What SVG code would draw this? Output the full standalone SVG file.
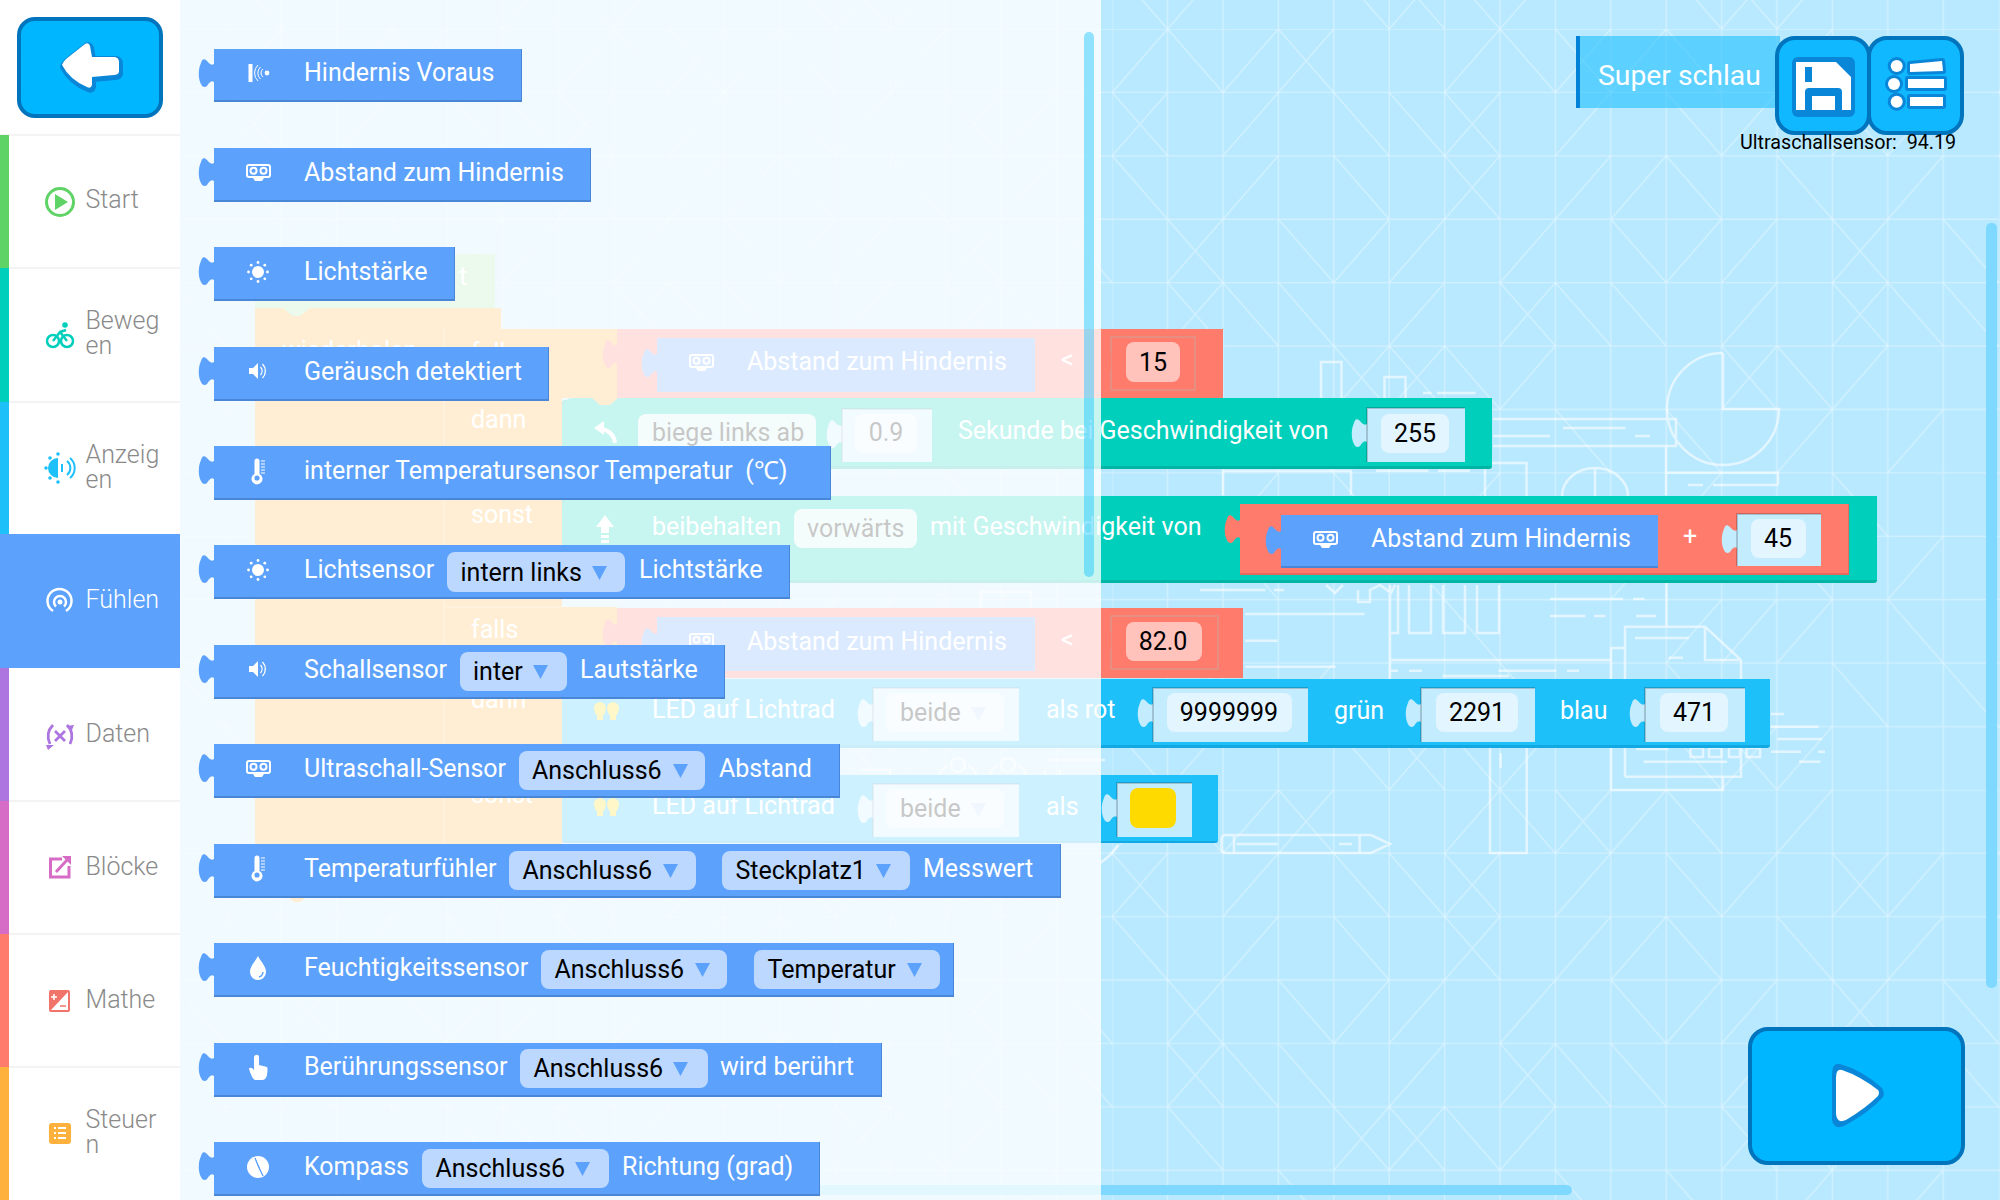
<svg xmlns="http://www.w3.org/2000/svg" width="2000" height="1200" viewBox="0 0 2000 1200">
<style>
text{font-family:Roboto,"Liberation Sans",sans-serif;font-size:25px}
.w{fill:#fff}.k{fill:#000}.m{text-anchor:middle}
.cat{fill:#8a8a8a;font-weight:300;font-size:25px}
.gl{fill:none;stroke:#fff;stroke-opacity:.34;stroke-width:1.4;vector-effect:non-scaling-stroke}
.il{fill:none;stroke:#fff;stroke-opacity:.6;stroke-width:2.5}
.blue{fill:#5ca1fb}.blued{fill:#4a86d6}.dd{fill:#bcd8ff}.tri{fill:#5ca1fb}.trig{fill:#bcd8ff}
.red{fill:#ff7b6c}.redd{fill:#e56a5c}.teal{fill:#00cfbb}.teald{fill:#00b5a3}.cyan{fill:#1ec0f9}.cyand{fill:#12a8e2}.or{fill:#ffb13d}.gr{fill:#a5e6a8}
.sock{fill:#c4ecff}.sockr{fill:#ff7b6c;stroke:#e0958a;stroke-width:1.5}
.st{fill:none;stroke:#000;stroke-opacity:.18;stroke-width:2}
.fld{fill:#e3f5ff}.fldr{fill:#ffc3bc}.fldt{fill:#cdf3ef}
.btn{fill:#00b7ff;stroke:#0074bd;stroke-width:4}
.btnt{fill:#00b3ff;fill-opacity:.92;stroke:#0074bd;stroke-width:4}
.ic{fill:#fff}.ics{fill:none;stroke:#fff;stroke-width:2}
.shade{fill:#0a86d8;stroke:#0a86d8;stroke-linejoin:round}
</style>
<defs>
<pattern id="grid" x="1112.2" y="29" width="886.4" height="760.8" patternUnits="userSpaceOnUse">
<path class="gl" d="M0 0H886.4M0 63.4H886.4M0 126.8H886.4M0 190.2H886.4M0 253.6H886.4M0 317H886.4M0 380.4H886.4M0 443.8H886.4M0 507.2H886.4M0 570.6H886.4M0 634H886.4M0 697.4H886.4M0 0V760.8M55.4 0V760.8M110.8 0V760.8M166.2 0V760.8M221.6 0V760.8M277 0V760.8M332.4 0V760.8M387.8 0V760.8M443.2 0V760.8M498.6 0V760.8M554 0V760.8M609.4 0V760.8M664.8 0V760.8M720.2 0V760.8M775.6 0V760.8M831 0V760.8"/>
<path class="gl" transform="scale(55.4 63.4)" d="
M1 0L0 1M1 0L2 1M3 0L2 1M3 0L4 1M4 0L3 1M7 0L6 1M7 0L8 1M8 0L9 1M9 0L8 1M10 0L9 1M10 0L11 1M13 0L12 1
M0 1L1 2M1 1L0 2M3 1L2 2M4 1L5 2M5 1L6 2M6 1L7 2M7 1L6 2M9 1L8 2M10 1L11 2M12 1L11 2M13 1L14 2M14 1L13 2M15 1L14 2
M0 2L1 3M3 2L2 3M4 2L5 3M6 2L7 3M7 2L6 3M9 2L8 3M10 2L9 3M10 2L11 3M12 2L13 3M15 2L14 3
M1 3L2 4M2 3L1 4M3 3L4 4M5 3L4 4M6 3L5 4M8 3L7 4M9 3L10 4M11 3L10 4M12 3L11 4M13 3L14 4M14 3L13 4M15 3L16 4
M1 4L2 5M2 4L1 5M2 4L3 5M3 4L4 5M6 4L5 5M7 4L8 5M8 4L7 5M8 4L9 5M9 4L10 5M12 4L11 5M13 4L14 5M14 4L13 5M14 4L15 5M15 4L16 5
M1 5L2 6M4 5L5 6M5 5L4 6M5 5L6 6M6 5L5 6M6 5L7 6M8 5L7 6M11 5L12 6M12 5L11 6M12 5L13 6M14 5L13 6
M3 6L4 7M8 6L9 7M10 6L11 7M13 6L12 7M15 6L14 7
M3 7L2 8M4 7L5 8M7 7L6 8M11 7L10 8M13 7L14 8
M2 8L3 9M5 8L6 9M10 8L9 9M12 8L13 9M15 8L14 9
M12 9L11 10M11 9L10 10M13 9L12 10M14 9L15 10M6 9L7 10
M7 10L8 11M10 10L11 11M13 10L14 11M4 10L3 11M15 10L16 11M2 10L1 11
M0 11L1 12M2 11L1 12M4 11L5 12M6 11L5 12M5 11L6 12M6 11L7 12M8 11L7 12M11 11L12 12M12 11L11 12M13 11L12 12M10 11L11 12"/>
</pattern>
<path id="tab" d="M15 15C12 17 10 14 8 12C5 9 3 10 2 14C-1 20-1 30 2 35C3 38 6 39 8 37C10 34 12 31 15 33Z"/>
<path id="tri" d="M0 0H15L7.500 14Z"/>
<path id="bulb" d="M0 0A6 6 0 0 1 6 6Q6 10 3 14V18H-3V14Q-6 10-6 6A6 6 0 0 1 0 0Z"/>
<g id="i-sonar"><rect x="-9.500" y="-9" width="4" height="18" class="ic"/><circle cx="9" cy="0" r="2.400" class="ic"/><path d="M5-4A5 5 0 0 0 5 4M2.500-6A8 8 0 0 0 2.500 6M0-8A11 11 0 0 0 0 8" fill="none" stroke="#fff" stroke-width="1"/></g>
<g id="i-dist"><rect x="-11" y="-7" width="23" height="12" rx="2" class="ics"/><circle cx="-4.500" cy="-1.200" r="3" class="ics" stroke-width="1.300"/><circle cx="5.500" cy="-1.200" r="3" class="ics" stroke-width="1.300"/><path d="M-5 6H6L4 9H-3Z" class="ic"/></g>
<g id="i-sun"><circle r="6" class="ic"/><g fill="#fff"><circle cx="0" cy="-9.500" r="1.400"/><circle cx="0" cy="9.500" r="1.400"/><circle cx="-9.500" cy="0" r="1.400"/><circle cx="9.500" cy="0" r="1.400"/><circle cx="-6.800" cy="-6.800" r="1.400"/><circle cx="6.800" cy="-6.800" r="1.400"/><circle cx="-6.800" cy="6.800" r="1.400"/><circle cx="6.800" cy="6.800" r="1.400"/></g></g>
<g id="i-snd"><path d="M-9-3H-5L0-8V8L-5 3H-9Z" class="ic"/><path d="M2.500-4A6 6 0 0 1 2.500 4M4.500-7A10 10 0 0 1 4.500 7" fill="none" stroke="#fff" stroke-width="1.300"/></g>
<g id="i-th"><path d="M-3.500-10A2.500 2.500 0 0 1 1.500-10V3A5.500 5.500 0 1 1-3.500 3Z" class="ic"/><circle cx="-1" cy="7" r="2.600" fill="#5ca1fb"/><path d="M3-10H7M3-7H7M3-4H7M3-1H7M3 2H7" stroke="#fff" stroke-width="1"/></g>
<g id="i-drop"><path d="M0-12C3-6 8-2 8 4A8 8 0 0 1-8 4C-8-2-3-6 0-12Z" class="ic"/><path d="M5 4A5 6 0 0 1 1 9" fill="none" stroke="#5ca1fb" stroke-width="1.500"/></g>
<g id="i-hand"><path d="M-2-13Q1-14 1-10V-3L9-1Q10 0 9 7Q8 12 4 12H-3Q-6 11-9 1Q-9-1-6 0L-4 2V-10Q-4-13-2-13Z" class="ic"/></g>
<g id="i-cmp"><circle r="11" class="ic"/><path d="M-3-9L5 9L0-1Z" fill="#5ca1fb" stroke="#5ca1fb"/></g>
</defs>
<g id="background">
<rect width="2000" height="1200" fill="#b9e9ff"/>
<rect width="2000" height="1200" fill="url(#grid)"/>
<g id="illustration">
<path class="il" d="M1321 400V362H1341.500V400M1384.500 400V377H1405.500V400M1423 393H1431.500M1437 393H1475.500M1493 419H1676V446H1493M1493 436H1550M1563 428H1625.500M1635 436H1650M1666 446V495M1666 472.700H1778V485M1688 485H1703M1713 485H1778M1723 353A56 56 0 1 0 1779 409H1723V353M1562 496A33 28 0 0 1 1628 496M1595 468V496M1485 496V463H1526.500V496M1376 470.700H1428.500M1438 470.700H1470M1223 495V471H1351V495"/>
<path class="il" d="M1200 590H1265.500M1274 590H1284M1326 585L1335 593L1343 585M1358 590V602H1370V590L1380 585L1391 593L1395 585M1390 585V680M1398 585V633H1390M1409 585V633H1431V585M1443 585V633H1465V585M1477 585V633H1499V585M1390 660H1611M1390 670.700H1398M1409 670.700H1422M1498.500 670.700H1556.500M1567 670.700H1579M1442.500 676H1509M1550 599H1623M1633 599H1644.500M1550 616H1585.500M1594 616H1605.500M1636 616H1656M1666.500 583V627M1625 776.700V626.700H1705L1741 660V776.700H1625M1705 626.700V660H1741M1635 638H1689M1668.500 657.700H1683M1611 790V648H1625M1611 790H1723V776.700M1245 614H1364.600M1245 640.700H1277.500M1245 666.700H1335.600M1490 748V853H1526.700V748M1500.600 753V768M1226 835H1371L1390 844L1371 853H1226Q1221.500 853 1221.500 848V840Q1221.500 835 1226 835ZM1234 835V853M1359.600 835V853M1236.500 844H1277.500M1339 844H1352M1690.500 748H1703V757H1690.500ZM1709 748H1721.500V757H1709ZM1729 748H1740V757H1729ZM1746.500 748H1760V757H1746.500ZM1771 714H1784M1771 726.700H1818.600M1777.500 739H1822M1771 751.700H1801M1818 751.700H1825M1799 761.700H1820.600M1643.600 761.700H1727M1636 749H1668.500"/>
<path class="il" d="M1100 863A58 58 0 0 0 1118 845M948 765A20 20 0 1 0 968 765M998 765A20 20 0 1 0 1018 765M981 607V592H1031V607M860 770H890V800M1050 760H1105M1045 770V790M1060 770V790"/>
<circle class="il" cx="958" cy="765" r="7"/><circle class="il" cx="1008" cy="765" r="7"/>
</g>
<rect x="800" y="1185" width="772" height="10" rx="5" fill="#7fd8ff"/>
<rect x="1986" y="223" width="11" height="765" rx="5" fill="#7fd8ff"/>
</g>
<g id="workspace">
<g id="ws-start"><rect x="255" y="254" width="240" height="54" class="gr"/><text x="459" y="285" class="w">t</text></g>
<g id="ws-repeat">
<path class="or" d="M255 308H501V329H617V398H562V468H562V495H562V607H617V680H562V845H560V895H255Z"/>
<path d="M444 329V895" stroke="#ffc56f" stroke-width="1.500"/>
<path d="M444 607H562" stroke="#ffc56f" stroke-width="1.500"/>
<path class="gr" d="M283 308H310L300 316H292Z"/>
<path class="or" d="M285 895H310L300 902H294Z"/>
<text x="282" y="359" class="w">wiederholen</text>
<text x="471" y="361" class="w">falls</text>
<text x="471" y="428" class="w">dann</text>
<text x="471" y="523" class="w">sonst</text>
<text x="471" y="638" class="w">falls</text>
<text x="471" y="708" class="w">dann</text>
<text x="471" y="803" class="w">sonst</text>
</g>
<g id="ws-cond1">
<rect x="617" y="329" width="606" height="69" class="red"/><use href="#tab" x="603" y="330" fill="#ff7b6c"/>
<rect x="657" y="338" width="378" height="54" class="blue"/><use href="#tab" x="642" y="339" fill="#5ca1fb"/>
<use href="#i-dist" x="701" y="362"/>
<text x="747" y="370" class="w">Abstand zum Hindernis</text><text x="1061" y="368" class="w">&lt;</text>
<rect x="1111" y="337" width="84" height="53" class="sockr"/><use href="#tab" x="1096" y="338" fill="#ff7b6c"/>
<rect x="1126" y="342" width="54" height="40" rx="8" class="fldr"/><text x="1153" y="371" class="k m">15</text>
</g>
<g id="ws-turn">
<rect x="562" y="400" width="930" height="69" rx="3" class="teald"/><path class="teal" d="M574 398H1492V466H562V410Q562 398 574 398Z"/><path class="or" d="M592 398H618L610 405H600Z"/>
<path d="M615 443Q614 432 602 429" fill="none" stroke="#fff" stroke-width="4"/><path d="M594 428L604 421V435Z" fill="#fff"/>
<rect x="638" y="414" width="178" height="40" rx="8" class="fldt"/><text x="652" y="441" class="k">biege links ab</text>
<rect x="842" y="409" width="90" height="53" class="sock"/><use href="#tab" x="827" y="410" fill="#c4ecff"/><path class="st" d="M842 462V409H932"/>
<rect x="855" y="414" width="62" height="39" rx="8" class="fld"/><text x="886" y="441" class="k m">0.9</text>
<text x="958" y="439" class="w">Sekunde bei Geschwindigkeit von</text>
<rect x="1367" y="408" width="98" height="54" class="sock"/><use href="#tab" x="1352" y="409" fill="#c4ecff"/><path class="st" d="M1367 462V408H1465"/>
<rect x="1381" y="414" width="68" height="39" rx="8" class="fld"/><text x="1415" y="442" class="k m">255</text>
</g>
<g id="ws-keep">
<rect x="562" y="498" width="1315" height="85" rx="3" class="teald"/><path class="teal" d="M574 496H1877V580H562V508Q562 496 574 496Z"/>
<path d="M605 515L614 527H609V533H601V527H596ZM601 535H609V538H601ZM601 540H609V543H601Z" fill="#fff"/>
<text x="652" y="535" class="w">beibehalten</text>
<rect x="794" y="509" width="123" height="39" rx="8" class="fldt"/><text x="807" y="537" class="k">vorwärts</text>
<text x="930" y="535" class="w">mit Geschwindigkeit von</text>
<rect x="1240" y="504" width="609" height="71" class="redd"/><rect x="1240" y="504" width="608" height="69" class="red"/><use href="#tab" x="1225" y="505" fill="#ff7b6c"/>
<rect x="1281" y="515" width="377" height="53" class="blued"/><rect x="1281" y="515" width="377" height="51" class="blue"/><use href="#tab" x="1266" y="516" fill="#5ca1fb"/>
<use href="#i-dist" x="1325" y="539"/>
<text x="1371" y="547" class="w">Abstand zum Hindernis</text><text x="1683" y="545" class="w">+</text>
<rect x="1737" y="514" width="84" height="52" class="sock"/><use href="#tab" x="1722" y="515" fill="#c4ecff"/><path class="st" d="M1737 566V514H1821"/>
<rect x="1751" y="519" width="55" height="39" rx="8" class="fld"/><text x="1778" y="547" class="k m">45</text>
</g>
<g id="ws-cond2">
<rect x="617" y="608" width="626" height="70" class="red"/><use href="#tab" x="603" y="609" fill="#ff7b6c"/>
<rect x="657" y="617" width="378" height="54" class="blue"/><use href="#tab" x="642" y="618" fill="#5ca1fb"/>
<use href="#i-dist" x="701" y="641"/>
<text x="747" y="650" class="w">Abstand zum Hindernis</text><text x="1061" y="648" class="w">&lt;</text>
<rect x="1111" y="616" width="107" height="53" class="sockr"/><use href="#tab" x="1096" y="617" fill="#ff7b6c"/>
<rect x="1126" y="622" width="76" height="39" rx="8" class="fldr"/><text x="1163" y="650" class="k m">82.0</text>
</g>
<g id="ws-led1">
<rect x="562" y="681" width="1208" height="67" rx="3" class="cyand"/><path class="cyan" d="M574 679H1770V745H562V691Q562 679 574 679Z"/>
<g fill="#ffda00"><use href="#bulb" x="600" y="702"/><use href="#bulb" x="613" y="702"/></g>
<text x="652" y="718" class="w">LED auf Lichtrad</text>
<rect x="873" y="688" width="146" height="53" class="sock"/><use href="#tab" x="858" y="689" fill="#c4ecff"/><path class="st" d="M873 741V688H1019"/>
<rect x="886" y="693" width="118" height="39" rx="8" class="fld"/><text x="900" y="721" class="k">beide</text><use href="#tri" x="971" y="707" class="trig"/>
<text x="1046" y="718" class="w">als rot</text>
<rect x="1153" y="688" width="155" height="54" class="sock"/><use href="#tab" x="1138" y="689" fill="#c4ecff"/><path class="st" d="M1153 742V688H1308"/>
<rect x="1167" y="693" width="125" height="39" rx="8" class="fld"/><text x="1229" y="721" class="k m">9999999</text>
<text x="1334" y="719" class="w">grün</text>
<rect x="1421" y="688" width="114" height="54" class="sock"/><use href="#tab" x="1406" y="689" fill="#c4ecff"/><path class="st" d="M1421 742V688H1535"/>
<rect x="1436" y="693" width="82" height="39" rx="8" class="fld"/><text x="1477" y="721" class="k m">2291</text>
<text x="1560" y="719" class="w">blau</text>
<rect x="1645" y="688" width="100" height="54" class="sock"/><use href="#tab" x="1630" y="689" fill="#c4ecff"/><path class="st" d="M1645 742V688H1745"/>
<rect x="1660" y="693" width="68" height="39" rx="8" class="fld"/><text x="1694" y="721" class="k m">471</text>
</g>
<g id="ws-led2">
<rect x="562" y="777" width="656" height="66" rx="3" class="cyand"/><path class="cyan" d="M574 775H1218V841H562V787Q562 775 574 775Z"/>
<g fill="#ffda00"><use href="#bulb" x="600" y="798"/><use href="#bulb" x="613" y="798"/></g>
<text x="652" y="814" class="w">LED auf Lichtrad</text>
<rect x="873" y="784" width="146" height="53" class="sock"/><use href="#tab" x="858" y="785" fill="#c4ecff"/><path class="st" d="M873 837V784H1019"/>
<rect x="886" y="789" width="118" height="39" rx="8" class="fld"/><text x="900" y="817" class="k">beide</text><use href="#tri" x="971" y="803" class="trig"/>
<text x="1046" y="815" class="w">als</text>
<rect x="1117" y="783" width="75" height="54" class="sock"/><use href="#tab" x="1102" y="784" fill="#c4ecff"/><path class="st" d="M1117 837V783H1192"/>
<rect x="1130" y="788" width="46" height="40" rx="8" fill="#ffda00"/>
</g>
</g>
<rect id="flyout-panel" x="180" y="0" width="921" height="1200" fill="#fff" fill-opacity=".78"/>
<rect id="flyout-scrollbar" x="1084" y="32" width="10" height="545" rx="5" fill="#00bfff" fill-opacity=".4"/>
<g id="sidebar">
<rect width="180" height="1200" fill="#fff"/>
<path d="M0 135H180M0 268H180M0 402H180M0 801H180M0 934H180M0 1067H180" stroke="#f0f0f0" stroke-width="1.500"/>
<g id="btn-back"><rect x="19" y="19" width="142" height="97" rx="16" class="btn"/><path class="shade" stroke-width="6" transform="translate(1 2)" d="M62 65Q63 62 66 59L85 44Q89 42 90 46L92 57L115 57Q119 58 119 62V72Q118 75 114 75L92 77V85Q91 89 87 87Q70 80 62 65Z"/><path class="ic" d="M62 65Q63 62 66 59L85 44Q89 42 90 46L92 57L115 57Q119 58 119 62V72Q118 75 114 75L92 77V85Q91 89 87 87Q70 80 62 65Z"/></g>
<g id="cat-start"><rect y="135" width="9" height="133" fill="#5fd365"/><circle cx="60" cy="202" r="13.500" fill="none" stroke="#5fd365" stroke-width="3"/><path d="M55 194L68 202L55 210Z" fill="#5fd365"/><text x="85.500" y="208" class="cat">Start</text></g>
<g id="cat-move"><rect y="268" width="9" height="134" fill="#00cfbb"/><g fill="none" stroke="#00cfbb" stroke-width="2.500"><circle cx="53" cy="341" r="6"/><circle cx="67" cy="341" r="6"/><path d="M53 341L60 332L67 341M60 332L66 330"/></g><circle cx="65" cy="325" r="2.800" fill="#00cfbb"/><text x="85.500" y="329" class="cat">Beweg</text><text x="85.500" y="354" class="cat">en</text></g>
<g id="cat-show"><rect y="402" width="9" height="132" fill="#1ec0f9"/><path d="M58 458V478A10 10 0 0 1 58 458Z" fill="#1ec0f9"/><path d="M62 464V472M67 461A9 9 0 0 1 67 475M70 458A13 13 0 0 1 70 478" fill="none" stroke="#1ec0f9" stroke-width="2"/><g fill="#1ec0f9"><circle cx="46" cy="468" r="1.800"/><circle cx="50" cy="458" r="1.800"/><circle cx="50" cy="478" r="1.800"/><circle cx="58" cy="454" r="1.800"/><circle cx="58" cy="482" r="1.800"/></g><text x="85.500" y="463" class="cat">Anzeig</text><text x="85.500" y="488" class="cat">en</text></g>
<g id="cat-sense"><rect y="534" width="180" height="134" fill="#5ca1fb"/><g fill="none" stroke="#fff" stroke-width="2.500"><path d="M53 611A12 12 0 1 1 66 611"/><path d="M56 606.500A6 6 0 1 1 64 606.500"/></g><circle cx="60" cy="602" r="2.500" fill="#fff"/><text x="85.500" y="608" class="cat" style="fill:#fff">Fühlen</text></g>
<g id="cat-data"><rect y="668" width="9" height="133" fill="#ad75e0"/><path d="M53 725Q45 733 50 744M67 725Q75 733 70 744M55 731L65 741M65 731L55 741" fill="none" stroke="#ad75e0" stroke-width="2.800"/><path d="M46 745H54L48 750ZM66 726L74 725L72 730Z" fill="#ad75e0"/><text x="85.500" y="742" class="cat">Daten</text></g>
<g id="cat-blocks"><rect y="801" width="9" height="133" fill="#d76cc6"/><path d="M62 859H50.500V877H69V866" fill="none" stroke="#d76cc6" stroke-width="3"/><path d="M56 872L67 860" stroke="#d76cc6" stroke-width="3"/><path d="M62 856H71V865Z" fill="#d76cc6"/><text x="85.500" y="875" class="cat">Blöcke</text></g>
<g id="cat-math"><rect y="934" width="9" height="133" fill="#ff7b6c"/><rect x="49" y="990" width="21" height="22" rx="2" fill="#f0746a"/><path d="M68 992V1010H51Z" fill="#fff"/><path d="M51 997H57M54 994V1000" stroke="#fff" stroke-width="1.500"/><path d="M60 1006H66" stroke="#f0746a" stroke-width="1.500"/><text x="85.500" y="1008" class="cat">Mathe</text></g>
<g id="cat-control"><rect y="1067" width="9" height="133" fill="#ffb13d"/><rect x="49" y="1123" width="22" height="21" rx="3" fill="#ffb13d"/><path d="M54 1128H56M58 1128H66M54 1133H56M58 1133H66M54 1138H56M58 1138H66" stroke="#fff" stroke-width="2"/><text x="85.500" y="1128" class="cat">Steuer</text><text x="85.500" y="1153" class="cat">n</text></g>
</g>
<g id="blocks">
<g id="b1"><rect x="214" y="49" width="308" height="53" class="blued"/><rect x="214" y="49" width="307" height="51" class="blue"/><use href="#tab" x="199" y="49" fill="#5ca1fb"/><use href="#i-sonar" x="258" y="73"/><text x="304" y="81" class="w">Hindernis Voraus</text></g>
<g id="b2"><rect x="214" y="148" width="377" height="54" class="blued"/><rect x="214" y="148" width="376" height="52" class="blue"/><use href="#tab" x="199" y="148" fill="#5ca1fb"/><use href="#i-dist" x="258" y="172"/><text x="304" y="181" class="w">Abstand zum Hindernis</text></g>
<g id="b3"><rect x="214" y="247" width="241" height="54" class="blued"/><rect x="214" y="247" width="240" height="52" class="blue"/><use href="#tab" x="199" y="247" fill="#5ca1fb"/><use href="#i-sun" x="258" y="272"/><text x="304" y="280" class="w">Lichtstärke</text></g>
<g id="b4"><rect x="214" y="347" width="335" height="54" class="blued"/><rect x="214" y="347" width="334" height="52" class="blue"/><use href="#tab" x="199" y="347" fill="#5ca1fb"/><use href="#i-snd" x="258" y="371"/><text x="304" y="380" class="w">Geräusch detektiert</text></g>
<g id="b5"><rect x="214" y="446" width="617" height="54" class="blued"/><rect x="214" y="446" width="616" height="52" class="blue"/><use href="#tab" x="199" y="446" fill="#5ca1fb"/><use href="#i-th" x="258" y="471"/><text x="304" y="479" class="w" xml:space="preserve">interner Temperatursensor Temperatur  (℃)</text></g>
<g id="b6"><rect x="214" y="545" width="576" height="54" class="blued"/><rect x="214" y="545" width="575" height="52" class="blue"/><use href="#tab" x="199" y="545" fill="#5ca1fb"/><use href="#i-sun" x="258" y="570"/><text x="304" y="578" class="w">Lichtsensor</text><rect x="447" y="552" width="178" height="40" rx="8" class="dd"/><text x="460.500" y="581" class="k">intern links</text><use href="#tri" x="592" y="566" class="tri"/><text x="639" y="578" class="w">Lichtstärke</text></g>
<g id="b7"><rect x="214" y="645" width="511" height="54" class="blued"/><rect x="214" y="645" width="510" height="52" class="blue"/><use href="#tab" x="199" y="645" fill="#5ca1fb"/><use href="#i-snd" x="258" y="669"/><text x="304" y="678" class="w">Schallsensor</text><rect x="460" y="652" width="107" height="39" rx="8" class="dd"/><text x="473" y="680" class="k">inter</text><use href="#tri" x="533" y="665" class="tri"/><text x="580" y="678" class="w">Lautstärke</text></g>
<g id="b8"><rect x="214" y="744" width="626" height="54" class="blued"/><rect x="214" y="744" width="625" height="52" class="blue"/><use href="#tab" x="199" y="744" fill="#5ca1fb"/><use href="#i-dist" x="258" y="768"/><text x="304" y="777" class="w">Ultraschall-Sensor</text><rect x="519" y="751" width="186" height="39" rx="8" class="dd"/><text x="532" y="779" class="k">Anschluss6</text><use href="#tri" x="673" y="764" class="tri"/><text x="719" y="777" class="w">Abstand</text></g>
<g id="b9"><rect x="214" y="844" width="847" height="54" class="blued"/><rect x="214" y="844" width="846" height="52" class="blue"/><use href="#tab" x="199" y="844" fill="#5ca1fb"/><use href="#i-th" x="258" y="868"/><text x="304" y="877" class="w">Temperaturfühler</text><rect x="509" y="851" width="187" height="39" rx="8" class="dd"/><text x="522.500" y="879" class="k">Anschluss6</text><use href="#tri" x="663" y="864" class="tri"/><rect x="722" y="851" width="188" height="39" rx="8" class="dd"/><text x="735.500" y="879" class="k">Steckplatz1</text><use href="#tri" x="876" y="864" class="tri"/><text x="923" y="877" class="w">Messwert</text></g>
<g id="b10"><rect x="214" y="943" width="740" height="54" class="blued"/><rect x="214" y="943" width="739" height="52" class="blue"/><use href="#tab" x="199" y="943" fill="#5ca1fb"/><use href="#i-drop" x="258" y="968"/><text x="304" y="976" class="w">Feuchtigkeitssensor</text><rect x="541" y="950" width="186" height="39" rx="8" class="dd"/><text x="554.500" y="978" class="k">Anschluss6</text><use href="#tri" x="695" y="963" class="tri"/><rect x="754" y="950" width="186" height="39" rx="8" class="dd"/><text x="767.500" y="978" class="k">Temperatur</text><use href="#tri" x="907" y="963" class="tri"/></g>
<g id="b11"><rect x="214" y="1043" width="668" height="54" class="blued"/><rect x="214" y="1043" width="667" height="52" class="blue"/><use href="#tab" x="199" y="1043" fill="#5ca1fb"/><use href="#i-hand" x="258" y="1068"/><text x="304" y="1075" class="w">Berührungssensor</text><rect x="520" y="1049" width="188" height="39" rx="8" class="dd"/><text x="533.500" y="1077" class="k">Anschluss6</text><use href="#tri" x="673" y="1062" class="tri"/><text x="720" y="1075" class="w">wird berührt</text></g>
<g id="b12"><rect x="214" y="1142" width="606" height="54" class="blued"/><rect x="214" y="1142" width="605" height="52" class="blue"/><use href="#tab" x="199" y="1142" fill="#5ca1fb"/><use href="#i-cmp" x="258" y="1167"/><text x="304" y="1175" class="w">Kompass</text><rect x="422" y="1149" width="187" height="39" rx="8" class="dd"/><text x="435.500" y="1177" class="k">Anschluss6</text><use href="#tri" x="575" y="1162" class="tri"/><text x="622" y="1175" class="w">Richtung (grad)</text></g>
</g>
<g id="top-right">
<g id="title"><rect x="1576" y="36" width="204" height="72" fill="#00b7ff" fill-opacity=".5"/><rect x="1576" y="36" width="4" height="72" fill="#0082d8"/><text x="1598" y="85" class="w" style="font-size:28.300px">Super schlau</text></g>
<g id="btn-save"><rect x="1777" y="38" width="92" height="95" rx="18" class="btnt"/><rect x="1792" y="57" width="63" height="60" rx="6" class="shade" stroke-width="0"/><path class="ic" d="M1796 62H1836L1851 77V110H1796Z"/><path class="shade" stroke-width="0" d="M1805 110V92Q1805 88 1809 88H1838Q1842 88 1842 92V110Z"/><rect x="1812" y="96" width="23" height="14" class="ic"/><rect x="1805" y="67" width="7" height="15" class="shade" stroke-width="0"/></g>
<g id="btn-list"><rect x="1869" y="38" width="93" height="95" rx="18" class="btnt"/><g style="fill:#fff;stroke:#0a86d8;stroke-width:6;paint-order:stroke;stroke-linejoin:round"><circle cx="1896.700" cy="66" r="6"/><circle cx="1894" cy="84" r="6"/><circle cx="1896.700" cy="101.700" r="6"/><path d="M1910 64L1942 61L1943 71L1910 72ZM1908 79H1944V88H1908ZM1910 97H1943V106L1910 106Z"/></g></g>
<text x="1740" y="149" class="k" style="font-size:19.700px" xml:space="preserve">Ultraschallsensor:  94.19</text>
</g>
<g id="btn-play"><rect x="1750" y="1029" width="213" height="134" rx="18" class="btn"/><path d="M1840 1064Q1832 1062 1832 1075V1120Q1834 1130 1844 1126Q1870 1112 1883 1097Q1885 1093 1882 1088Q1862 1070 1840 1064Z" fill="#0a86d8"/><path d="M1842 1070Q1836 1068 1836 1078V1114Q1837 1124 1846 1120Q1866 1108 1878 1096Q1880 1092 1878 1090Q1860 1076 1842 1070Z" fill="#fff"/></g>
</svg>
